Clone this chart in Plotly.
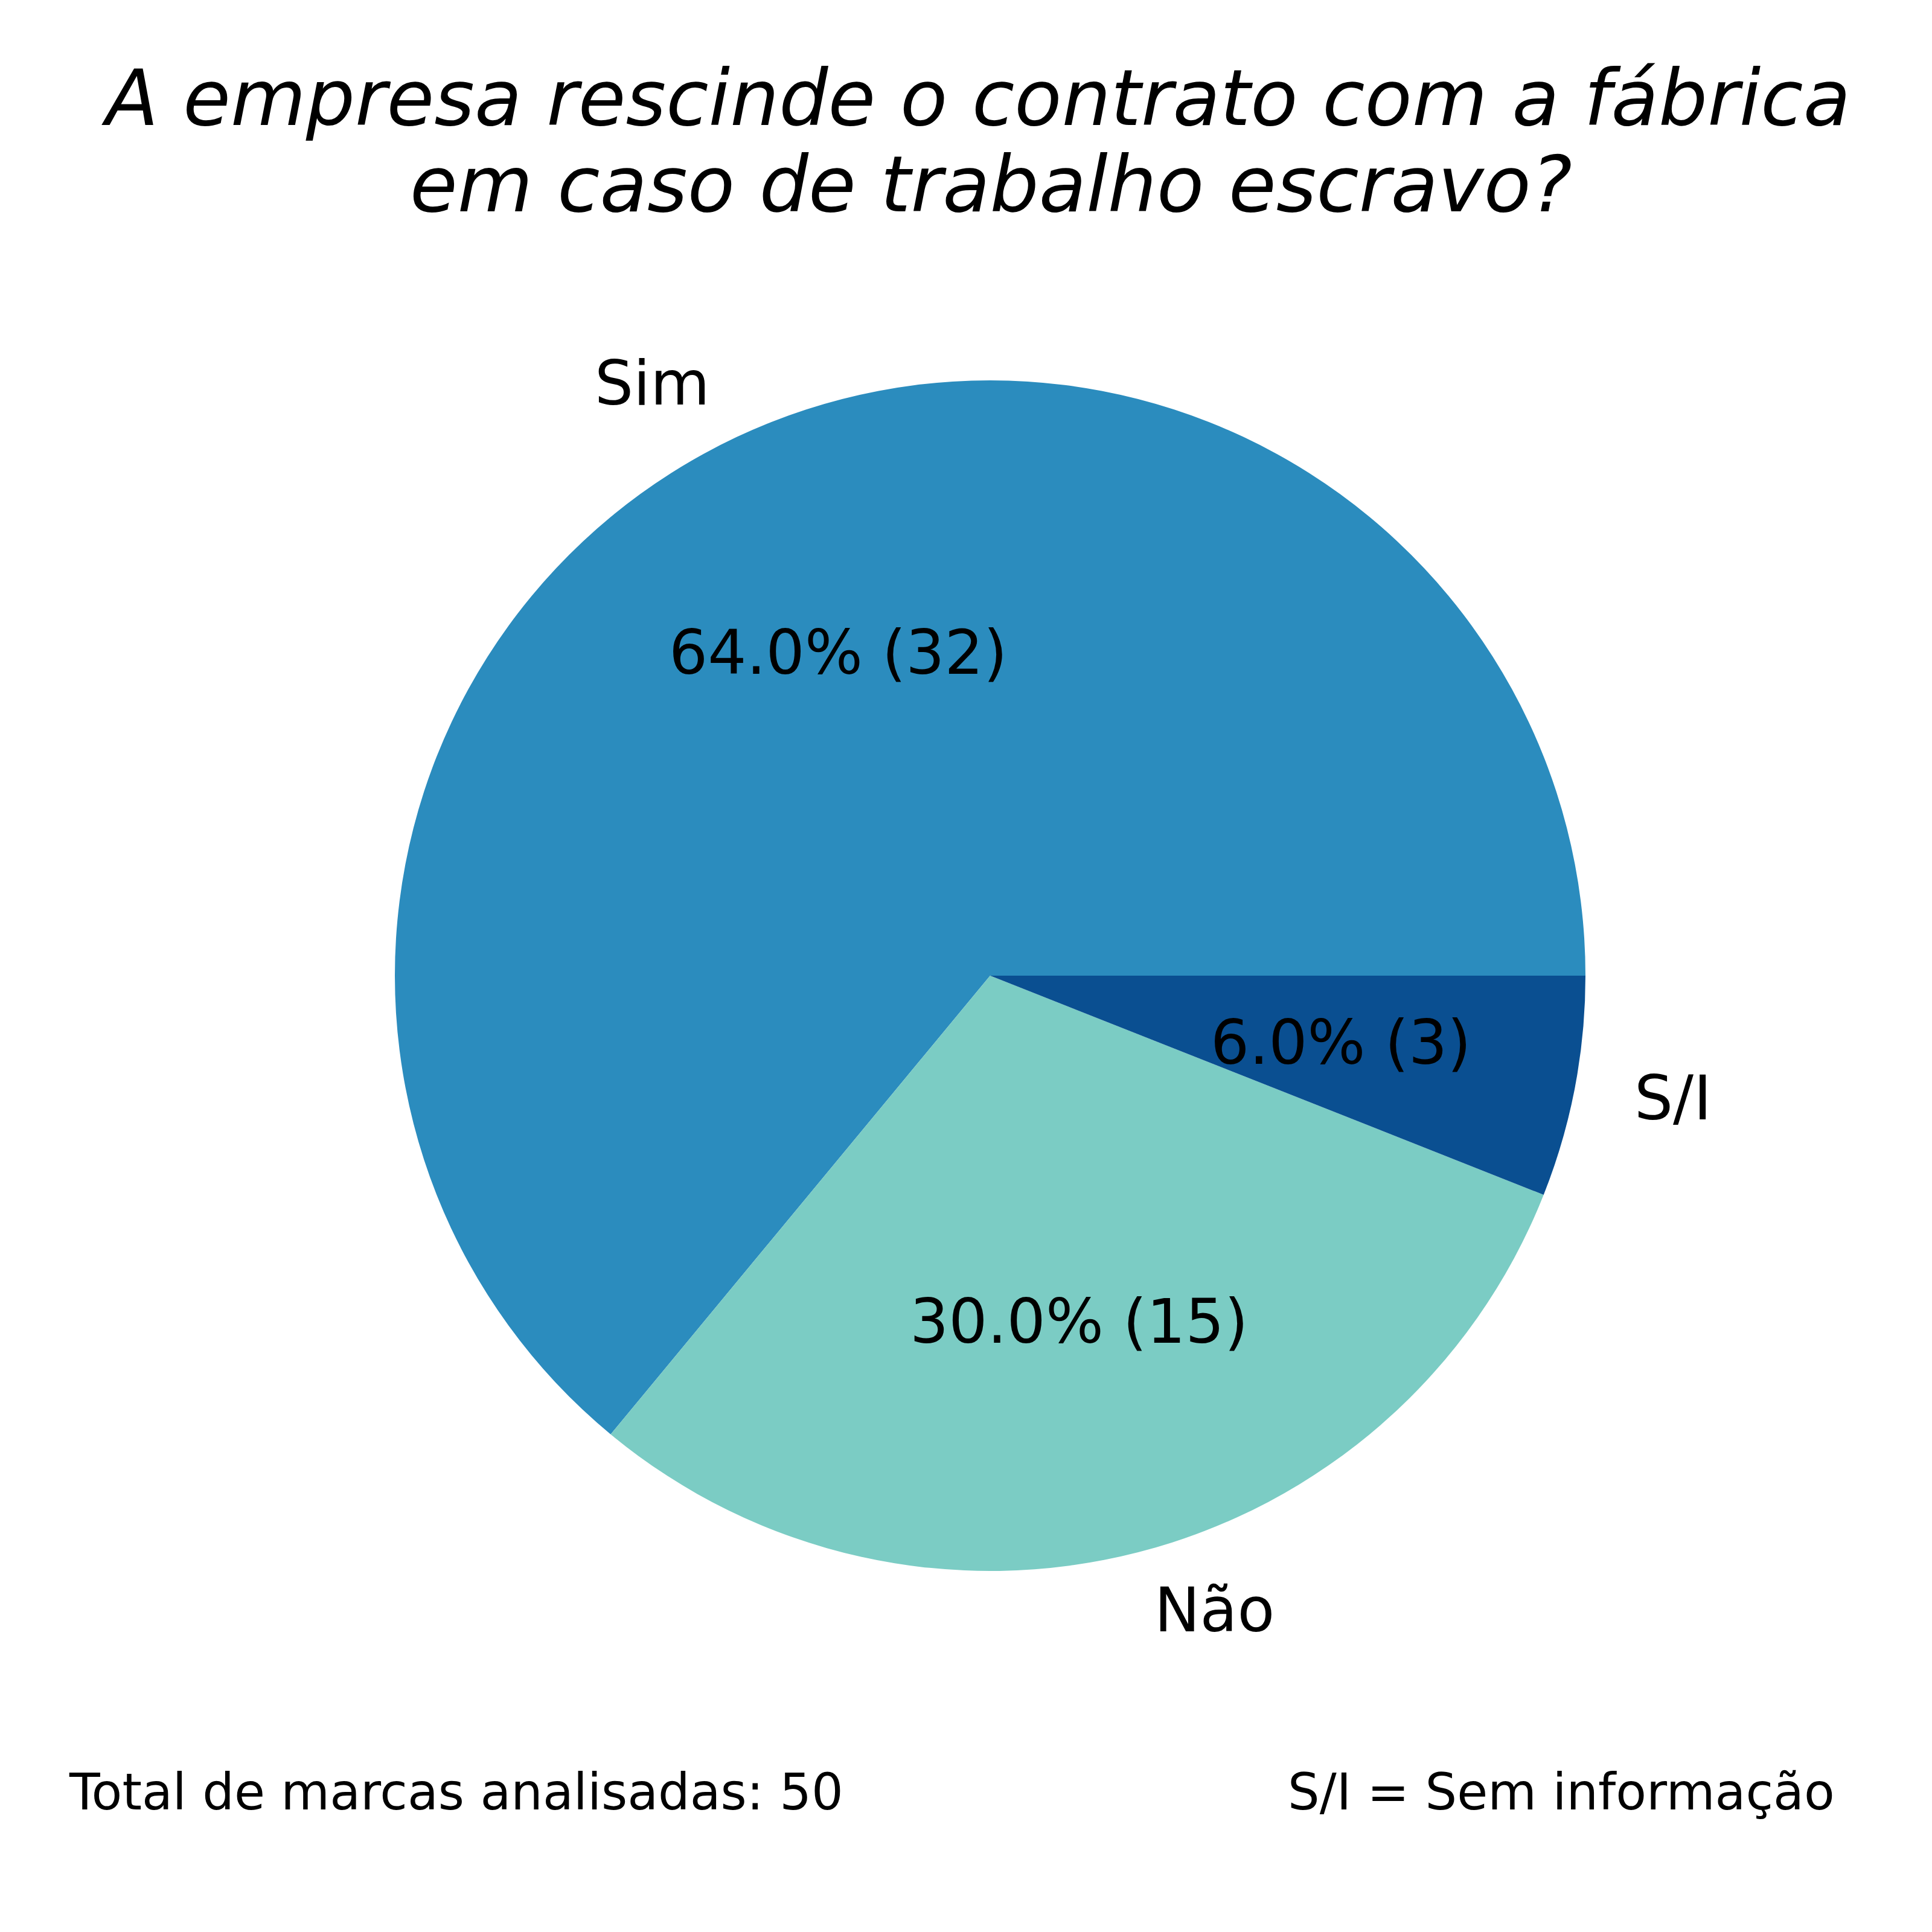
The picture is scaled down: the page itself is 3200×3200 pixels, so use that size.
import math
import plotly.graph_objects as go

# ---- data ----
labels = ["Sim", "Não", "S/I"]
counts = [32, 15, 3]
colors = ["#2b8cbe", "#7bccc4", "#0a4f91"]
title_lines = ["A empresa rescinde o contrato com a fábrica", "em caso de trabalho escravo?"]
note_left = "Total de marcas analisadas: 50"
note_right = "S/I = Sem informação"

# ---- layout geometry (pixels) ----
W = H = 3200
CX, CY, R = 1640, 1616, 986
FONT = "DejaVu Sans"

def px(x):
    return x / W

def py(y):
    return 1 - y / H

total = sum(counts)
# first slice spans 0deg (east) counter-clockwise; plotly ccw places the first slice ending at rotation
rot = 90 - 360 * counts[0] / total

fig = go.Figure()
fig.add_trace(go.Pie(
    labels=labels,
    values=counts,
    sort=False,
    direction="counterclockwise",
    rotation=rot,
    marker=dict(colors=colors, line=dict(width=0)),
    textinfo="none",
    hoverinfo="label+value+percent",
    showlegend=False,
    domain=dict(x=[px(CX - R), px(CX + R)], y=[py(CY + R), py(CY - R)]),
))

annotations = []
start = 0.0
for lab, c in zip(labels, counts):
    frac = c / total
    mid = math.radians((start + frac / 2) * 360)
    start += frac
    # outer label at 1.1 r
    lx = CX + 1.1 * R * math.cos(mid)
    ly = CY - 1.1 * R * math.sin(mid)
    annotations.append(dict(
        x=px(lx), y=py(ly), xref="paper", yref="paper", text=lab, showarrow=False,
        xanchor="left" if math.cos(mid) > 0 else "right", yanchor="middle",
        font=dict(family=FONT, size=101, color="black"),
    ))
    # percent label at 0.6 r
    tx = CX + 0.6 * R * math.cos(mid)
    ty = CY - 0.6 * R * math.sin(mid)
    annotations.append(dict(
        x=px(tx), y=py(ty), xref="paper", yref="paper",
        text=f"{frac * 100:.1f}% ({c})", showarrow=False,
        xanchor="center", yanchor="middle",
        font=dict(family=FONT, size=101, color="black"),
    ))

# title lines
for text, xc, yc in zip(title_lines, [1616, 1641], [162, 306]):
    annotations.append(dict(
        x=px(xc), y=py(yc), xref="paper", yref="paper", text=text, showarrow=False,
        xanchor="center", yanchor="middle",
        font=dict(family=FONT, size=128, color="black", style="italic"),
    ))

annotations.append(dict(
    x=px(112), y=py(2968), xref="paper", yref="paper", text=note_left, showarrow=False,
    xanchor="left", yanchor="middle", font=dict(family=FONT, size=83, color="black"),
))
annotations.append(dict(
    x=px(3041), y=py(2968), xref="paper", yref="paper", text=note_right, showarrow=False,
    xanchor="right", yanchor="middle", font=dict(family=FONT, size=83, color="black"),
))

fig.update_layout(
    width=W, height=H,
    margin=dict(l=0, r=0, t=0, b=0),
    paper_bgcolor="white", plot_bgcolor="white",
    annotations=annotations,
)

fig.write_html("out.html")
